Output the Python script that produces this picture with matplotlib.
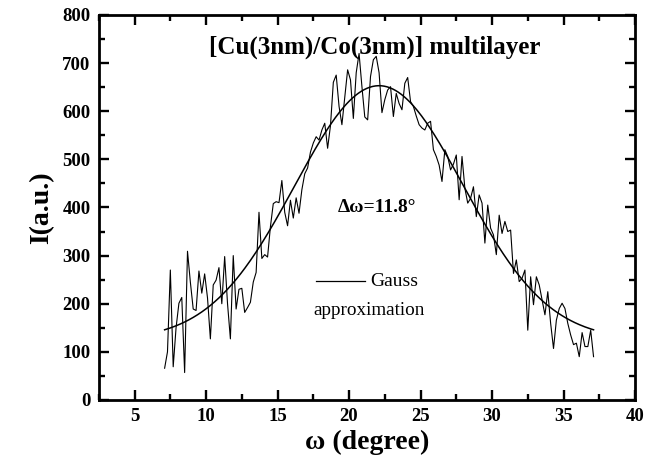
import numpy as np
import matplotlib
matplotlib.use('Agg')
import matplotlib.pyplot as plt
from matplotlib.ticker import MultipleLocator

# measured rocking curve, omega scan 7.1 .. 37.1 deg, 0.2 deg step
omega_start, omega_stop = 7.1, 37.1
intensity = [
    66, 100, 270, 69, 150, 201, 213, 57, 309, 245,
    189, 186, 268, 222, 262, 212, 127, 239, 249, 275,
    200, 298, 200, 127, 300, 189, 230, 232, 182, 192,
    203, 245, 265, 390, 294, 302, 297, 360, 408, 412,
    410, 456, 390, 362, 415, 378, 420, 388, 437, 470,
    482, 515, 534, 547, 540, 561, 575, 523, 570, 660,
    675, 610, 572, 630, 686, 665, 585, 680, 720, 651,
    588, 582, 672, 707, 714, 680, 597, 624, 644, 651,
    589, 637, 616, 603, 658, 670, 620, 610, 590, 572,
    565, 561, 575, 579, 520, 506, 488, 454, 520, 506,
    478, 490, 509, 416, 506, 440, 409, 419, 443, 381,
    426, 409, 326, 405, 357, 343, 302, 384, 346, 371,
    350, 353, 263, 291, 246, 253, 270, 145, 256, 198,
    256, 239, 208, 177, 225, 159, 107, 166, 190, 201,
    190, 159, 135, 115, 118, 90, 140, 111, 111, 145,
    90,
]

# Gauss approximation parameters (offset, centre, sigma, amplitude)
gauss_y0 = 125
gauss_xc = 22.1
gauss_sigma = 5.9
gauss_amp = 528

title = "[Cu(3nm)/Co(3nm)] multilayer"
fwhm_label = "Δω=11.8°"

plt.rcParams['font.family'] = ['Liberation Serif', 'DejaVu Serif']

omega = np.linspace(omega_start, omega_stop, len(intensity))
omega_fit = np.linspace(omega_start, omega_stop, 300)
fit = gauss_y0 + gauss_amp * np.exp(-(omega_fit - gauss_xc) ** 2 / (2 * gauss_sigma ** 2))

fig = plt.figure(figsize=(6.59, 4.67), dpi=100)
ax = fig.add_axes([0.150, 0.1435, 0.8136, 0.8245])

ax.plot(omega, intensity, color='k', lw=0.8)
ax.plot(omega_fit, fit, color='k', lw=1.1)

ax.set_xlim(2.5, 40)
ax.set_ylim(0, 800)
ax.xaxis.set_major_locator(MultipleLocator(5))
ax.xaxis.set_minor_locator(MultipleLocator(2.5))
ax.yaxis.set_major_locator(MultipleLocator(100))
ax.yaxis.set_minor_locator(MultipleLocator(50))
ax.tick_params(which='both', direction='in', top=True, right=True, width=1.7)
ax.tick_params(which='major', length=7, labelsize=13.5, pad=6)
ax.tick_params(which='minor', length=4)
for lab in ax.get_xticklabels() + ax.get_yticklabels():
    lab.set_fontweight('bold')
for sp in ax.spines.values():
    sp.set_linewidth(2.0)

ax.set_xlabel("ω (degree)", fontsize=20, fontweight='bold', labelpad=3)
ax.set_ylabel("I(a.u.)", fontsize=20, fontweight='bold', labelpad=6)

ax.text(0.514, 0.915, title, transform=ax.transAxes, ha='center', va='center',
        fontsize=18, fontweight='bold')
ax.text(0.518, 0.50, fwhm_label, transform=ax.transAxes, ha='center', va='center',
        fontsize=14, fontweight='bold')

# legend drawn by hand: short line, "Gauss" beside it, "approximation" below
ax.plot([0.405, 0.496], [0.308, 0.308], transform=ax.transAxes, color='k', lw=0.9)
ax.text(0.507, 0.308, "Gauss", transform=ax.transAxes, ha='left', va='center', fontsize=14)
ax.text(0.400, 0.232, "approximation", transform=ax.transAxes, ha='left', va='center',
        fontsize=13.8)

fig.savefig('out.png', dpi=100)
